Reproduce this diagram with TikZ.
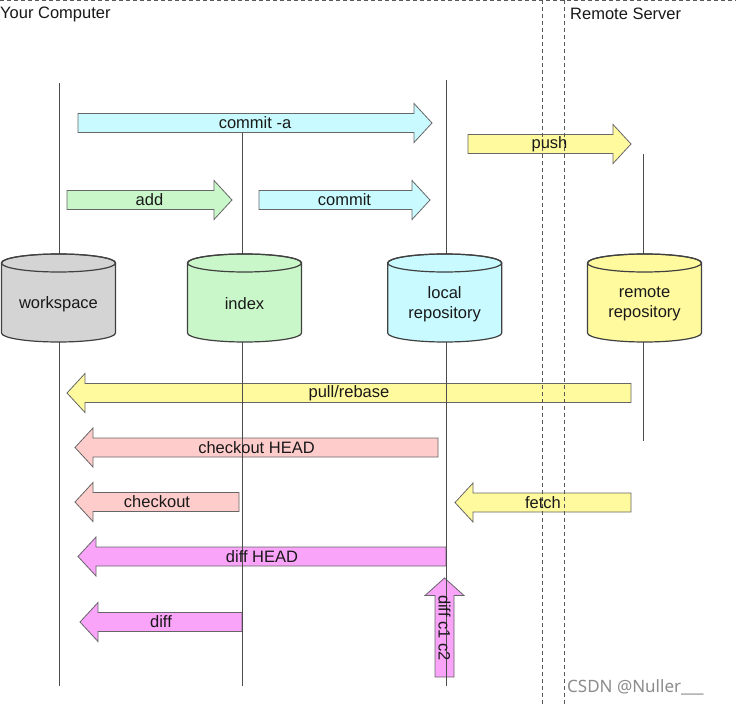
\documentclass[tikz,border=0pt]{standalone}
\usepackage{fontspec}
\setmainfont{Liberation Sans}
\newfontfamily\wmfont{Noto Sans}
\definecolor{cyanF}{HTML}{C8FAFF}
\definecolor{greenF}{HTML}{C9F7C9}
\definecolor{yellowF}{HTML}{FFFA9E}
\definecolor{pinkF}{HTML}{FFCCCC}
\definecolor{magF}{HTML}{F9A3F9}
\definecolor{grayF}{HTML}{D4D4D4}
\newcommand\RArr[4]{%
  \path[arrowbox,fill=#4] (#1,#3-9.5) -- (#2-18,#3-9.5) -- (#2-18,#3-19.5) -- (#2,#3) -- (#2-18,#3+19.5) -- (#2-18,#3+9.5) -- (#1,#3+9.5) -- cycle;}
\newcommand\LArr[4]{%
  \path[arrowbox,fill=#4] (#2,#3-9.5) -- (#1+18,#3-9.5) -- (#1+18,#3-19.5) -- (#1,#3) -- (#1+18,#3+19.5) -- (#1+18,#3+9.5) -- (#2,#3+9.5) -- cycle;}
\newcommand\Cyl[2]{%
  \path[cyl,fill=#2] (#1-57,263) -- (#1-57,333) arc[start angle=180,end angle=0,x radius=57,y radius=9] -- (#1+57,263) arc[start angle=0,end angle=-180,x radius=57,y radius=9] -- cycle;
  \draw[cyl] (#1,263) ellipse[x radius=57,y radius=9];}
\begin{document}
\begin{tikzpicture}[x=1pt,y=-1pt,
  lbl/.style={font=\fontsize{16.5}{20}\selectfont,inner sep=0pt,text=black!90},
  arrowbox/.style={draw=black!60,line width=0.8pt},
  lifeline/.style={draw=black!70,line width=0.9pt},
  dashline/.style={draw=black!65,line width=1pt,dash pattern=on 4pt off 3pt},
  cyl/.style={draw=black!75,line width=1.2pt}]
\useasboundingbox[fill=white] (0,0) rectangle (736,706);
% arrow shapes
\RArr{78}{432}{123}{cyanF}
\RArr{468}{631}{144}{yellowF}
\RArr{67}{232}{200}{greenF}
\RArr{259}{430}{200}{cyanF}
\LArr{67}{631}{393}{yellowF}
\LArr{75}{438}{447.5}{pinkF}
\LArr{75}{239}{502}{pinkF}
\LArr{455}{631}{502.5}{yellowF}
\LArr{78}{446}{556.5}{magF}
\LArr{80}{242}{622}{magF}
\path[arrowbox,fill=magF] (435,677) -- (435,595.5) -- (425,595.5) -- (444.5,578) -- (464,595.5) -- (454,595.5) -- (454,677) -- cycle;
% lifelines
\coordinate (wsT) at (59,83);   \coordinate (wsB) at (59,686);
\coordinate (ixT) at (242,133); \coordinate (ixB) at (242,686);
\coordinate (lrT) at (446,80);  \coordinate (lrB) at (446,686);
\coordinate (rrT) at (643,154); \coordinate (rrB) at (643,441);
\draw[lifeline] (wsT) -- (wsB);
\draw[lifeline] (ixT) -- (ixB);
\draw[lifeline] (lrT) -- (lrB);
\draw[lifeline] (rrT) -- (rrB);
% dashed borders
\coordinate (hL) at (0,1); \coordinate (hR) at (736,1);
\coordinate (d1T) at (542,0); \coordinate (d1B) at (542,706);
\coordinate (d2T) at (564,0); \coordinate (d2B) at (564,706);
\draw[dashline] (hL) -- (hR);
\draw[dashline] (d1T) -- (d1B);
\draw[dashline] (d2T) -- (d2B);
% cylinders
\Cyl{58.5}{grayF}
\Cyl{244.5}{greenF}
\Cyl{444.7}{cyanF}
\Cyl{644.5}{yellowF}
\node[lbl,align=center] (ws) at (58.5,304) {workspace};
\node[lbl,align=center] (ix) at (244.5,304) {index};
\node[lbl,align=center] (lr) at (444.7,304) {local\\repository};
\node[lbl,align=center] (rr) at (644.5,304) {remote\\repository};
% arrow labels
\node[lbl] (commita) at (255,123) {commit -a};
\node[lbl] (push) at (549.5,144) {push};
\node[lbl] (add) at (149.5,200) {add};
\node[lbl] (commit) at (344.5,200) {commit};
\node[lbl] (pull) at (349,393) {pull/rebase};
\node[lbl] (coH) at (256.5,447.5) {checkout HEAD};
\node[lbl] (co) at (157,502) {checkout};
\node[lbl] (fetch) at (543,502.5) {fetch};
\node[lbl] (diffH) at (262,556.5) {diff HEAD};
\node[lbl] (diff) at (161,622) {diff};
\node[lbl,rotate=-90] (diffc) at (444.5,628) {diff c1 c2};
\node[lbl,anchor=west] (yc) at (0,14) {Your Computer};
\node[lbl,anchor=west] (rs) at (570,14) {Remote Server};
\node[font=\wmfont\fontsize{17}{19}\selectfont,text=black!45,anchor=west,inner sep=0pt] (wm) at (567,687) {CSDN @Nuller\_\_\_};
\end{tikzpicture}
\end{document}
